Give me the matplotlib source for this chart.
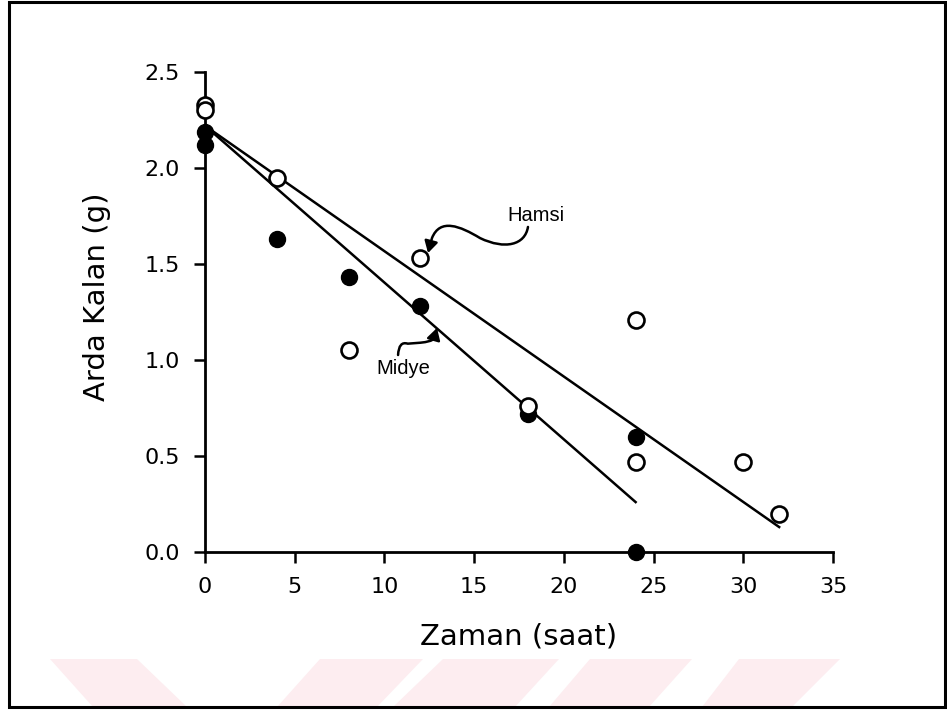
import matplotlib
matplotlib.use("Agg")
import matplotlib.pyplot as plt
from matplotlib.patches import Rectangle, Polygon, FancyArrowPatch
from matplotlib.path import Path
import numpy as np

# ---- data ----
hamsi_x = [0, 0, 4, 8, 12, 18, 24, 24, 30, 32]
hamsi_y = [2.33, 2.30, 1.95, 1.05, 1.53, 0.76, 1.21, 0.47, 0.47, 0.20]
midye_x = [0, 0, 4, 8, 12, 18, 24, 24]
midye_y = [2.19, 2.12, 1.63, 1.43, 1.28, 0.72, 0.60, 0.00]

# fitted lines (start/end)
hamsi_line_x = [0, 32]
hamsi_line_y = [2.22, 0.13]
midye_line_x = [0, 24]
midye_line_y = [2.22, 0.26]

x_ticks = [0, 5, 10, 15, 20, 25, 30, 35]
y_ticks = [0.0, 0.5, 1.0, 1.5, 2.0, 2.5]
x_label = "Zaman (saat)"
y_label = "Arda Kalan (g)"

W, H = 947, 710
fig = plt.figure(figsize=(W / 100, H / 100), dpi=100)
fig.patch.set_facecolor("white")

# watermark stripes (decoration)
pink = "#fdedf0"
def px_poly(pts):
    return Polygon([(x / W, 1 - y / H) for x, y in pts], closed=True,
                   transform=fig.transFigure, facecolor=pink, edgecolor="none", zorder=0)
stripes = [
    [(50, 659), (137, 659), (187, 707), (93, 707)],
    [(320, 659), (423, 659), (377, 707), (277, 707)],
    [(443, 659), (559, 659), (515, 707), (393, 707)],
    [(590, 659), (692, 659), (649, 707), (549, 707)],
    [(739, 659), (840, 659), (792, 707), (702, 707)],
]
for s in stripes:
    fig.add_artist(px_poly(s))

# frame border
fig.add_artist(Rectangle((9 / W, 3 / H), 936 / W, 705 / H, transform=fig.transFigure,
                         fill=False, edgecolor="black", lw=2.2, zorder=5))

ax = fig.add_axes([205 / W, (H - 552) / H, 628 / W, 480 / H])
ax.set_facecolor("none")

ax.plot(hamsi_line_x, hamsi_line_y, color="black", lw=1.8, zorder=2)
ax.plot(midye_line_x, midye_line_y, color="black", lw=1.8, zorder=2)

ax.plot(midye_x, midye_y, linestyle="none", marker="o", markersize=11.5,
        markerfacecolor="black", markeredgecolor="black", clip_on=False, zorder=3)
ax.plot(hamsi_x, hamsi_y, linestyle="none", marker="o", markersize=11.5,
        markerfacecolor="white", markeredgecolor="black", markeredgewidth=1.9,
        clip_on=False, zorder=4)

ax.set_xlim(0, 35)
ax.set_ylim(0, 2.5)
ax.set_xticks(x_ticks)
ax.set_yticks(y_ticks)
ax.set_xticklabels([str(t) for t in x_ticks])
ax.set_yticklabels([f"{t:.1f}" for t in y_ticks])
for side in ["top", "right"]:
    ax.spines[side].set_visible(False)
for side in ["left", "bottom"]:
    ax.spines[side].set_linewidth(2.0)
ax.tick_params(direction="out", length=8, width=1.8, labelsize=16, pad=10)

ax.set_xlabel(x_label, fontsize=21, family="DejaVu Sans")
ax.set_ylabel(y_label, fontsize=21, family="DejaVu Sans")
ax.xaxis.set_label_coords(0.5, -0.177)
ax.yaxis.set_label_coords(-0.172, 0.531)
ax.xaxis.label.set_va("center")
ax.yaxis.label.set_va("center")

# annotations
ax.text(18.45, 1.755, "Hamsi", fontsize=14.5, family="Liberation Sans",
        ha="center", va="center")
ax.text(11.04, 0.958, "Midye", fontsize=14.5, family="Liberation Sans",
        ha="center", va="center")

hamsi_path = Path(
    [(18.0, 1.693), (17.84, 1.599), (16.72, 1.573), (15.33, 1.635),
     (14.21, 1.698), (13.10, 1.740), (12.65, 1.635), (12.43, 1.557)],
    [Path.MOVETO, Path.CURVE4, Path.CURVE4, Path.CURVE4,
     Path.CURVE4, Path.CURVE4, Path.CURVE4, Path.LINETO])
ax.add_patch(FancyArrowPatch(path=hamsi_path, arrowstyle="-|>,head_length=7,head_width=4",
                             color="black", lw=1.8, transform=ax.transData,
                             mutation_scale=1, zorder=5))

midye_path = Path(
    [(10.76, 1.026), (10.80, 1.10), (11.3, 1.085), (12.0, 1.09),
     (12.6, 1.095), (12.75, 1.11), (12.93, 1.167)],
    [Path.MOVETO, Path.CURVE3, Path.CURVE3, Path.LINETO,
     Path.CURVE3, Path.CURVE3, Path.LINETO])
ax.add_patch(FancyArrowPatch(path=midye_path, arrowstyle="-|>,head_length=7,head_width=4",
                             color="black", lw=1.8, transform=ax.transData,
                             mutation_scale=1, zorder=5))

fig.savefig("out.png", dpi=100, facecolor="white")
